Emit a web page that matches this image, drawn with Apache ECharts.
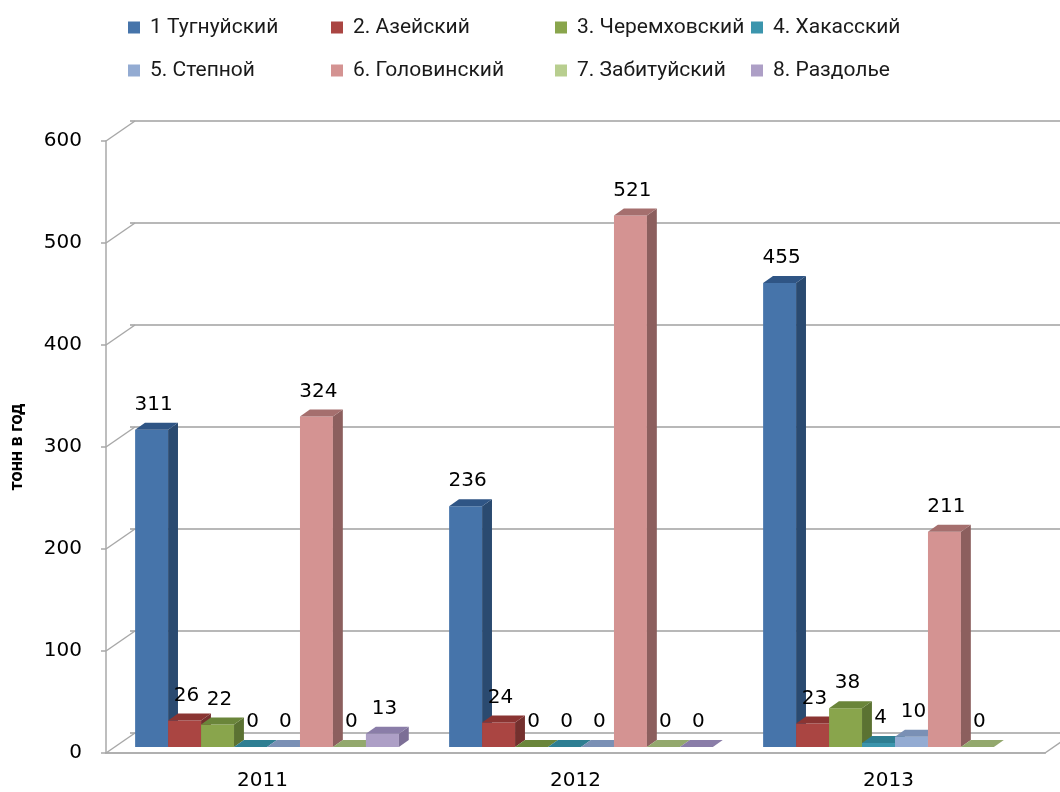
<!DOCTYPE html>
<html><head><meta charset="utf-8">
<script src="https://cdn.jsdelivr.net/npm/echarts@6/dist/echarts.min.js"></script>
<style>html,body{margin:0;padding:0;background:#fff}#c{width:1060px;height:792px}</style>
</head><body><div id="c"></div>
<script>
// ---- data ----
const years = ['2011', '2012', '2013'];
const seriesNames = ['1 Тугнуйский', '2. Азейский', '3. Черемховский', '4. Хакасский',
                     '5. Степной', '6. Головинский', '7. Забитуйский', '8. Раздолье'];
const tugnuy      = [311, 236, 455];
const azey        = [26, 24, 23];
const cheremkhovo = [22, 0, 38];
const khakas      = [0, 0, 4];
const stepnoy     = [0, 0, 10];
const golovino    = [324, 521, 211];
const zabituy     = [0, 0, 0];
const razdolye    = [13, 0, null];
const yTicks = [0, 100, 200, 300, 400, 500, 600];

const allValues = [tugnuy, azey, cheremkhovo, khakas, stepnoy, golovino, zabituy, razdolye];

// ---- styles ----
const frontCol = ['#4674AA', '#AA4542', '#89A54C', '#3B95AD', '#93ABD2', '#D49392', '#B8CE8F', '#AD9FC6'];
const sideCol  = ['#2A4A70', '#74302E', '#5B7232', '#26687A', '#6F84A6', '#8C5F5E', '#8AA065', '#7C6F96'];
const topCol   = ['#2F5585', '#8A3432', '#6A853A', '#2E7E92', '#7A90B5', '#A56F6E', '#93A86D', '#8A7DA8'];
const numFont = '"DejaVu Sans", Verdana, sans-serif';
const legFont = 'Roboto, "Noto Sans", sans-serif';

function makeRender(i) {
  return function (params, api) {
    const v = api.value(1);
    if (v === null || isNaN(v)) return;
    const top = api.coord([api.value(0), v]);
    const base = api.coord([api.value(0), 0]);
    const catW = api.size([1, 0])[0];
    const w = catW * 0.105;
    const x = top[0] - 4 * w + i * w;
    const dx = w * 0.3, dy = 7;
    const yT = top[1], yB = base[1];
    const children = [];
    if (yB - yT > 0.5) {
      children.push({ type: 'rect', shape: { x: x, y: yT, width: w, height: yB - yT }, style: { fill: frontCol[i] } });
      children.push({ type: 'polygon', shape: { points: [[x + w, yT], [x + w + dx, yT - dy], [x + w + dx, yB - dy], [x + w, yB]] }, style: { fill: sideCol[i] } });
    }
    children.push({ type: 'polygon', shape: { points: [[x, yT], [x + dx, yT - dy], [x + w + dx, yT - dy], [x + w, yT]] }, style: { fill: topCol[i] } });
    children.push({ type: 'text', z2: 100, style: { text: String(v), x: x + w / 2 + 2, y: yT - 15, align: 'center', verticalAlign: 'bottom',
      fontFamily: numFont, fontSize: 20, fill: '#000' } });
    return { type: 'group', children: children };
  };
}

const barSeries = allValues.map((arr, i) => ({
  name: seriesNames[i],
  type: 'custom',
  xAxisIndex: 0, yAxisIndex: 0,
  itemStyle: { color: frontCol[i] },
  renderItem: makeRender(i),
  data: arr.map((v, k) => [k, v]).filter(d => d[1] !== null),
  z: 5
}));

const diagSeries = {
  type: 'custom',
  xAxisIndex: 1, yAxisIndex: 1,
  silent: true,
  z: 1,
  renderItem: function (params, api) {
    const v = api.value(1);
    const p = api.coord([0, v]);
    const cs = params.coordSys;
    const children = [{ type: 'line', shape: { x1: cs.x, y1: p[1], x2: cs.x + 29, y2: p[1] - 20 }, style: { stroke: '#a8a8a8', lineWidth: 1.5 } }];
    if (v === 0) {
      children.push({ type: 'line', shape: { x1: cs.x + cs.width, y1: p[1], x2: cs.x + cs.width + 29, y2: p[1] - 20 }, style: { stroke: '#a8a8a8', lineWidth: 1.5 } });
    }
    return { type: 'group', children: children };
  },
  data: yTicks.map(v => [0, v])
};

const legendCols = [128, 331, 555, 751];
const legendRows = [17, 60];
const legends = seriesNames.map((n, k) => ({
  data: [n],
  left: legendCols[k % 4],
  top: legendRows[Math.floor(k / 4)],
  padding: 0,
  icon: 'rect',
  itemWidth: 12, itemHeight: 12,
  selectedMode: false,
  textStyle: { fontFamily: legFont, fontSize: 21, color: '#1a1a1a', padding: [0, 0, 0, 5] }
}));

const chart = echarts.init(document.getElementById('c'), null, { renderer: 'canvas' });
chart.setOption({
  animation: false,
  backgroundColor: '#fff',
  legend: legends,
  grid: [
    { left: 110, right: 8, top: 135, bottom: 45 },
    { left: 101, right: 15, top: 141, bottom: 39 },
    { left: 130, right: 0, top: 121, bottom: 59 }
  ],
  xAxis: [
    { type: 'category', gridIndex: 0, data: years, show: false },
    { type: 'category', gridIndex: 1, data: years,
      axisLine: { lineStyle: { color: '#b0b0b0', width: 2 } }, axisTick: { show: false },
      axisLabel: { fontFamily: numFont, fontSize: 20, color: '#000', margin: 18 } },
    { type: 'category', gridIndex: 2, data: years, show: false }
  ],
  yAxis: [
    { type: 'value', gridIndex: 0, min: 0, max: 600, interval: 100, show: false },
    { type: 'value', gridIndex: 1, min: 0, max: 600, interval: 100,
      name: 'тонн в год', nameLocation: 'middle', nameGap: 80,
      nameTextStyle: { fontFamily: legFont, fontWeight: 'bold', fontSize: 18, color: '#000' },
      axisLine: { show: true, lineStyle: { color: '#a8a8a8', width: 1.5 } },
      axisTick: { show: true, inside: false, length: 5, lineStyle: { color: '#a8a8a8', width: 1.5 } },
      splitLine: { show: false },
      axisLabel: { fontFamily: numFont, fontSize: 20, color: '#000', margin: 24 } },
    { type: 'value', gridIndex: 2, min: 0, max: 600, interval: 100,
      axisLine: { show: false }, axisTick: { show: false }, axisLabel: { show: false },
      splitLine: { show: true, lineStyle: { color: '#b8b8b8', width: 2 } } }
  ],
  series: [diagSeries].concat(barSeries)
});
</script>
</body></html>
